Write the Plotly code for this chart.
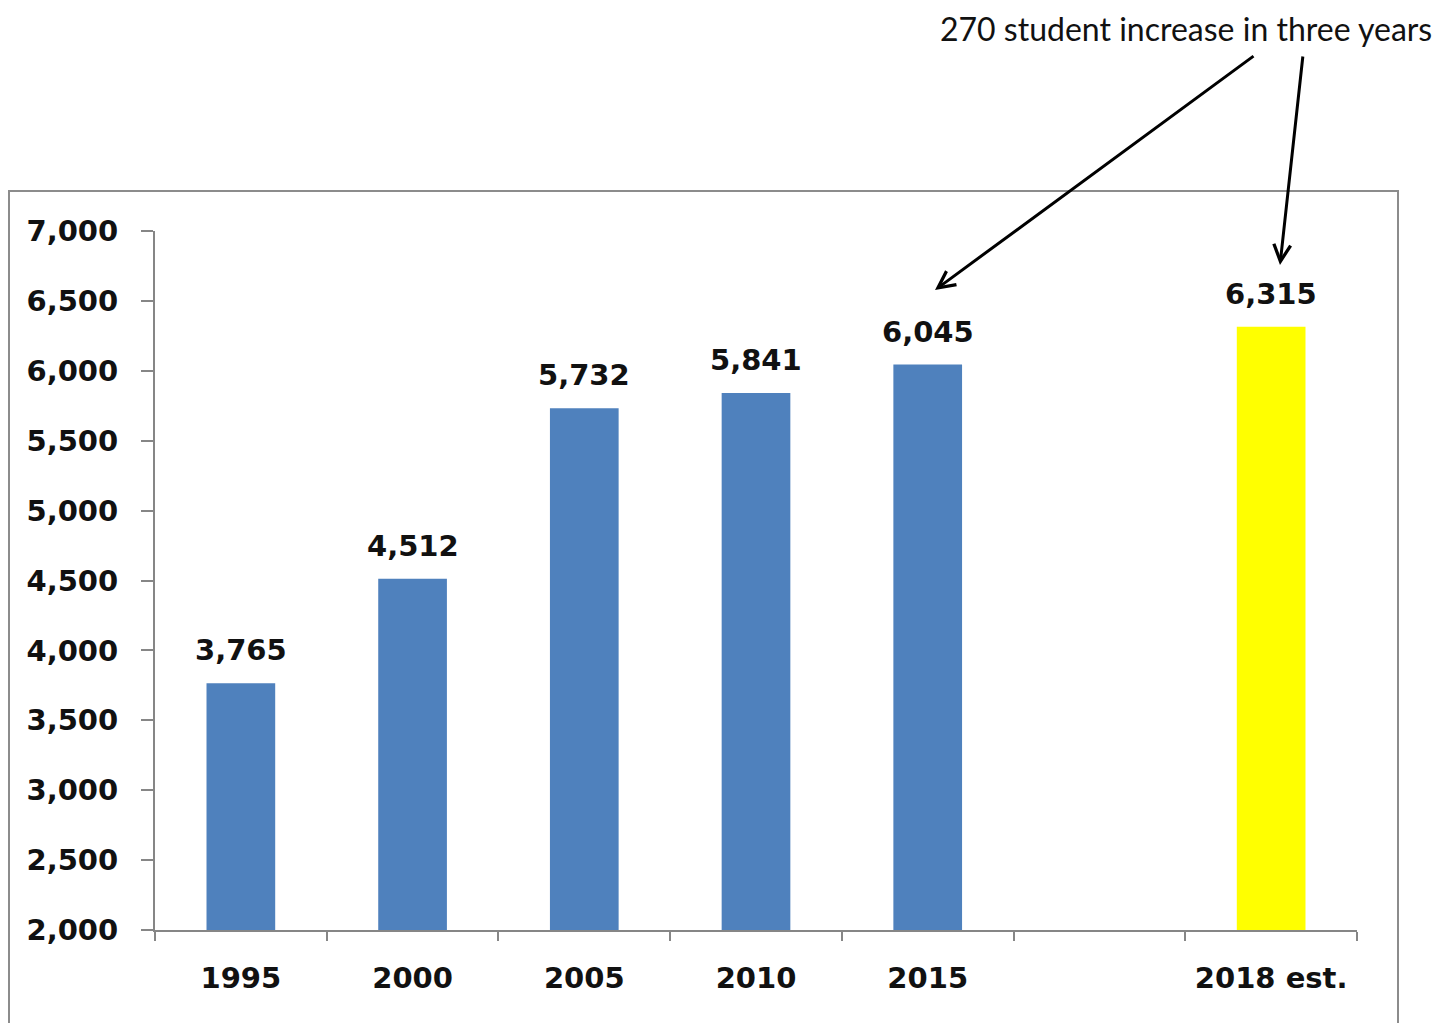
import plotly.graph_objects as go

categories = ["1995", "2000", "2005", "2010", "2015", " ", "2018 est."]
students = [3765, 4512, 5732, 5841, 6045, None, 6315]
bar_colors = ["#4F81BD", "#4F81BD", "#4F81BD", "#4F81BD", "#4F81BD", "#4F81BD", "#FFFF00"]
y_ticks = [2000, 2500, 3000, 3500, 4000, 4500, 5000, 5500, 6000, 6500, 7000]
note_text = "270 student increase in three years"

FONT = "DejaVu Sans"
LBL = 29

fig = go.Figure()
fig.add_trace(go.Bar(
    x=categories, y=students, marker=dict(color=bar_colors, line=dict(width=0)),
    width=0.4, hoverinfo="x+y",
))

# data labels (x given as category index)
for i, v in enumerate(students):
    if v is None:
        continue
    fig.add_annotation(x=i, y=v, xref="x", yref="y", text=f"<b>{v:,}</b>", showarrow=False,
                       yanchor="bottom", yshift=14,
                       font=dict(family=FONT, size=LBL, color="#111111"))

# top note
fig.add_annotation(xref="paper", yref="paper", x=(1186 - 155) / 1202, y=(930 - 28) / 699,
                   text=note_text, showarrow=False, xanchor="center", yanchor="middle",
                   borderpad=0,
                   font=dict(family="Lato", size=32, color="#111111"))

# arrows
fig.add_annotation(xref="paper", yref="paper", x=(935 - 155) / 1202, y=(930 - 290) / 699,
                   ax=320, ay=-235, text="", showarrow=True, arrowhead=5, arrowsize=1.1,
                   arrowwidth=3, arrowcolor="#000000")
fig.add_annotation(xref="paper", yref="paper", x=(1280 - 155) / 1202, y=(930 - 265) / 699,
                   ax=23, ay=-210, text="", showarrow=True, arrowhead=5, arrowsize=1.1,
                   arrowwidth=3, arrowcolor="#000000")

# chart frame
fig.add_shape(type="rect", xref="paper", yref="paper",
              x0=(9 - 155) / 1202, x1=(1398 - 155) / 1202,
              y0=(930 - 1040) / 699, y1=(930 - 191) / 699,
              line=dict(color="#8C8C8C", width=2), fillcolor="rgba(0,0,0,0)", layer="below")

fig.update_layout(
    width=1455, height=1023,
    margin=dict(l=147, r=106, t=223, b=101),
    paper_bgcolor="white", plot_bgcolor="white",
    showlegend=False, bargap=0.6,
    font=dict(family=FONT, size=LBL, color="#111111"),
    xaxis=dict(
        type="category", categoryorder="array", categoryarray=categories,
        range=[-0.5, len(categories) - 0.5], automargin=False,
        showline=True, linecolor="#868686", linewidth=2,
        ticks="outside", ticklen=9, tickwidth=2, tickcolor="#868686",
        tickson="boundaries", showgrid=False, zeroline=False, tickangle=0,
        tickfont=dict(family=FONT, size=LBL, color="#111111", weight="bold"),
        ticklabelstandoff=21,
    ),
    yaxis=dict(
        range=[2000, 7000], tickvals=y_ticks, ticktext=[f"{t:,}" for t in y_ticks],
        automargin=False,
        showline=True, linecolor="#868686", linewidth=2,
        ticks="outside", ticklen=12, tickwidth=2, tickcolor="#868686",
        showgrid=False, zeroline=False,
        tickfont=dict(family=FONT, size=LBL, color="#111111", weight="bold"),
        ticklabelstandoff=17,
    ),
)

fig.write_html("out.html")
